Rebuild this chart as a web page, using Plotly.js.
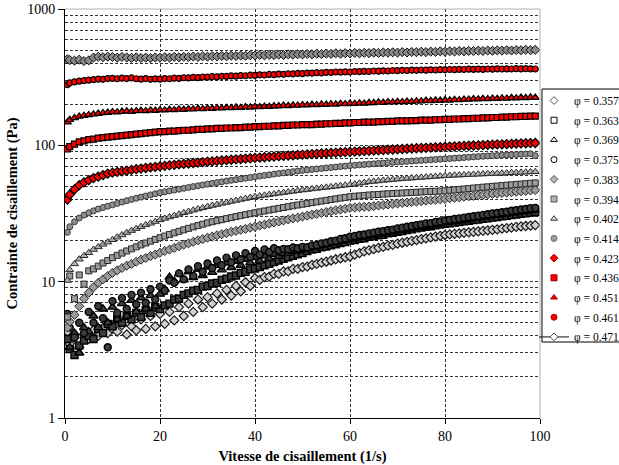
<!DOCTYPE html>
<html><head><meta charset="utf-8">
<script src="https://cdn.plot.ly/plotly-3.0.1.min.js"></script>
<style>html,body{margin:0;padding:0;background:#fff}#chart{width:619px;height:465px}</style>
</head><body><div id="chart"></div>
<script>
const shear = [0.5,1,2,3,4,5,6,7,8,9,10,11,12,13,14,15,16,17,18,19,20,21,22,23,24,25,26,27,28,29,30,31,32,33,34,35,36,37,38,39,40,41,42,43,44,45,46,47,48,49,50,51,52,53,54,55,56,57,58,59,60,61,62,63,64,65,66,67,68,69,70,71,72,73,74,75,76,77,78,79,80,81,82,83,84,85,86,87,88,89,90,91,92,93,94,95,96,97,98,99];

const phiLabels = ["0.357","0.363","0.369","0.375","0.383","0.394","0.402","0.414","0.423","0.436","0.451","0.461","0.471"];

const s357 = [4.3,3.5,3.9,3.3,4.1,3.8,4.4,4.0,4.6,4.2,4.5,4.3,4.8,4.1,4.7,4.4,5.3,4.5,5.6,4.7,5.8,4.9,6.0,5.2,6.5,5.6,6.9,6.0,7.4,6.5,7.7,6.9,8.2,7.4,8.7,7.9,9.3,8.5,9.9,9.3,10.6,10.3,10.8,10.9,11.4,11.4,11.9,11.9,12.4,12.4,12.8,12.9,13.3,13.5,13.8,14,14.3,14.6,14.8,15.1,15.3,15.8,16.2,16.7,17,17.3,17.7,18,18.4,18.6,19,19.3,19.6,19.9,20.2,20.5,20.8,21.1,21.4,21.7,22,22.2,22.4,22.6,22.8,23,23.2,23.4,23.6,23.8,24,24.2,24.5,24.7,24.9,25.2,25.4,25.6,25.8,26];
const s363 = [3.8,3.2,2.9,3.4,3.7,4.0,3.8,4.5,4.2,4.9,4.7,5.3,5.0,5.6,5.3,5.9,5.5,6.2,5.9,6.5,6.3,6.7,6.9,7.4,7.5,8.0,8.2,8.6,8.7,9.2,9.3,9.7,9.8,10.3,10.5,10.9,11.1,11.6,11.8,12.3,12.5,12.8,13.2,13.5,13.9,14.3,14.7,15.1,15.5,15.9,16.2,16.8,17.2,17.4,17.9,18.1,18.5,18.8,19.2,19.5,20,20.2,20.6,20.8,21.3,21.5,21.9,22.1,22.6,22.8,23.2,23.5,23.9,24.2,24.6,24.9,25.3,25.5,25.9,26.2,26.6,26.8,27.1,27.4,27.7,28,28.3,28.5,28.9,29.1,29.5,29.8,30.2,30.4,30.8,31.1,31.5,31.7,32.1,32.4];
const s369 = [4.6,3.3,4.2,3.0,4.6,4.3,5.6,4.6,6.3,5.0,6.5,5.3,6.9,5.6,7.3,6.0,7.6,6.3,7.9,6.6,8.1,8.8,10.8,10.1,11.4,10.3,11.8,10.7,12.3,11.1,12.8,11.7,13.2,12.2,13.7,12.7,14.1,13.2,14.6,13.8,15,14.2,15.4,14.8,15.9,15.3,16.1,16.2,16.7,16.8,17.2,17.4,17.9,18,18.5,18.7,19.1,19.3,19.8,20,20.5,20.7,21.1,21.3,21.7,21.9,22.3,22.5,22.9,23.1,23.6,23.8,24.3,24.5,25,25.2,25.6,25.8,26.3,26.5,27,27.3,27.7,28,28.4,28.6,29.1,29.3,29.8,30,30.5,30.7,31.1,31.4,31.8,32,32.5,32.7,33.2,33.4];
const s375 = [5.8,4.6,3.9,5.0,4.2,6.0,5.0,6.6,5.4,3.3,7.2,5.9,7.6,6.3,8.0,6.8,8.3,7.0,8.8,7.4,9.2,8.6,10.2,9.8,11.5,10.4,12.3,11.0,13.0,11.8,13.6,12.6,14.3,13.2,15,13.9,15.6,14.6,16.2,15.2,16.8,15.8,17.2,16.5,17.6,17.0,17.4,17.3,17.8,17.6,18.0,17.9,18.4,18.6,19.1,19.3,19.8,20,20.6,20.8,21.4,21.6,22,22.2,22.6,22.9,23.3,23.5,23.9,24.1,24.6,24.9,25.3,25.6,26,26.3,26.7,26.9,27.4,27.6,28.1,28.4,28.8,29.1,29.5,29.8,30.2,30.5,30.9,31.2,31.6,31.9,32.3,32.6,33.1,33.4,33.8,34.1,34.6,34.8];
const s383 = [4.6,5.1,5.7,6.6,7.5,8.3,9.1,9.8,10.4,11,11.6,12.1,12.6,13.1,13.5,14,14.5,14.9,15.4,15.8,16.3,16.8,17.2,17.7,18.2,18.7,19.1,19.6,20.1,20.5,21,21.4,21.9,22.3,22.7,23.2,23.6,24,24.4,24.9,25.3,25.8,26.2,26.7,27.2,27.6,28.1,28.6,29.1,29.5,30,30.5,31,31.4,31.9,32.4,32.9,33.4,33.8,34.3,34.8,35,35.2,35.4,35.5,35.8,36.2,36.5,36.8,37.2,37.5,37.8,38.1,38.4,38.7,39,39.3,39.6,39.9,40.2,40.5,40.9,41.2,41.6,41.9,42.3,42.6,43,43.3,43.7,44,44.3,44.7,45,45.3,45.7,46,46.3,46.7,47];
const s394 = [5.5,11,7.5,11.2,9.6,12,12.4,13,13.7,14.3,15,15.6,16.2,16.8,17.4,18,18.6,19.2,19.8,20.4,21,21.6,22.2,22.8,23.4,24,24.6,25.2,25.8,26.4,27,27.5,28,28.5,29,29.5,30,30.5,31,31.5,32,32.5,33,33.5,34,34.5,35,35.5,36,36.5,37,37.5,38,38.5,39,39.5,40,40.5,41,41.5,42,42.3,42.6,42.9,43.2,43.4,43.6,43.9,44.1,44.3,44.5,44.7,44.9,45.1,45.3,45.5,45.7,45.9,46,46.2,46.4,46.8,47.1,47.5,47.8,48.2,48.6,48.9,49.3,49.6,50,50.3,50.7,51,51.3,51.7,52,52.3,52.7,53];
const s402 = [10.2,12.2,13.5,14.6,15.5,16.3,17.2,18,18.8,19.5,20.3,21.2,22,22.9,23.7,24.5,25.3,26.1,26.8,27.6,28.4,29.1,29.8,30.5,31.2,32,32.7,33.4,34.1,34.8,35.5,36.2,36.8,37.5,38.1,38.8,39.4,40.1,40.7,41.4,42,42.5,43,43.5,44,44.5,45,45.5,46,46.5,47,47.4,47.9,48.3,48.8,49.2,49.6,50.1,50.5,51,51.4,52,52.7,53.3,54,54.4,54.8,55.3,55.7,56.1,56.5,56.8,57.2,57.5,57.8,58.2,58.5,58.8,59.1,59.5,59.8,60,60.3,60.5,60.7,60.9,61.2,61.4,61.6,61.8,62,62.2,62.4,62.6,62.9,63.1,63.3,63.5,63.8,64];
const s414 = [23,25.3,27.5,29.3,30.8,32,33.1,34.1,35,35.8,36.6,37.5,38.4,39.3,40.1,40.9,41.7,42.5,43.3,44.1,44.9,45.6,46.3,47,47.7,48.4,49.1,49.8,50.5,51.2,51.9,52.6,53.3,54,54.7,55.4,56,56.7,57.4,58.1,58.8,59.5,60.2,60.8,61.5,62.2,62.8,63.5,64.1,64.8,65.5,66,66.6,67.1,67.7,68.2,68.8,69.3,69.9,70.4,71,71.4,71.9,72.3,72.8,73.2,73.7,74.1,74.6,75,75.5,75.9,76.3,76.7,77.1,77.5,77.9,78.3,78.8,79.2,79.6,80,80.5,80.9,81.4,81.8,82.3,82.7,83.2,83.6,84,84.3,84.7,85,85.3,85.7,86,86.3,86.7,84];
const s423 = [40,43.5,47.5,51,53.5,55.5,57.5,59,60.5,62,63,63.8,64.5,65.3,66,66.8,67.5,68.2,68.9,69.5,70.1,70.7,71.3,71.9,72.5,73.1,73.6,74.2,74.7,75.3,75.8,76.3,76.9,77.4,77.9,78.4,78.9,79.4,79.9,80.4,80.9,81.3,81.8,82.3,82.7,83.2,83.6,84.1,84.5,85,85.4,85.8,86.3,86.7,87.1,87.5,87.9,88.3,88.8,89.2,89.6,90,90.4,90.8,91.2,91.6,92,92.4,92.8,93.2,93.6,94,94.4,94.8,95.2,95.6,95.9,96.3,96.7,97.1,97.5,97.9,98.2,98.6,99,99.3,99.7,100,100.4,100.8,101.1,101.5,101.8,102.2,102.5,102.9,103.2,103.6,103.9,104];
const s436 = [94,98,102,106,108,110,111,113,114,115,116,117,118,119,120,121,122,123,124,125,126,126,127,127,128,129,129,130,131,131,132,132,133,133,134,134,135,135,136,136,137,137,138,138,139,139,140,140,141,141,142,142,142,143,143,144,144,145,145,146,146,147,147,148,148,148,149,149,150,150,151,151,151,152,152,153,153,153,154,154,155,155,156,156,157,157,158,158,159,159,160,160,161,161,162,162,163,163,164,164];
const s451 = [148,154,159,163,165,167,169,171,173,174,176,175,177,178,177,179,180,179,181,180,182,181,183,182,184,183,185,184,186,185,187,186,188,187,189,188,190,189,191,190,192,191,193,192,194,194,196,195,197,196,198,197,199,198,200,199,201,200,202,201,203,202,204,203,205,205,207,206,208,207,209,208,210,209,211,211,213,212,214,213,215,214,216,215,217,217,219,218,220,219,221,220,222,221,223,222,224,223,225,224];
const s461 = [279,287,292,296,298,301,303,306,305,309,310,308,311,309,312,308,306,309,305,307,306,309,308,311,310,313,312,315,314,317,316,319,318,321,320,323,322,325,324,327,326,329,328,331,330,333,332,335,334,337,336,339,338,341,340,343,342,345,344,346,345,348,347,349,348,351,350,352,351,354,353,355,354,356,355,357,356,358,357,359,358,360,359,361,360,362,361,362,361,363,362,364,363,364,363,365,364,365,364,363];
const s471 = [428,422,418,425,415,420,440,446,443,447,444,440,445,441,438,442,437,440,436,441,439,443,440,445,442,446,444,448,445,450,447,451,449,453,450,455,452,456,454,458,456,460,457,461,459,463,460,465,462,466,464,468,465,470,467,471,469,473,470,474,472,476,473,477,475,479,476,480,478,481,479,483,480,484,482,486,483,487,485,489,486,490,488,492,489,493,491,495,492,496,494,497,495,499,496,500,498,502,499,501];

const seriesValues = [s357,s363,s369,s375,s383,s394,s402,s414,s423,s436,s451,s461,s471];
// plot style (dense look) and legend style (as in the key)
const styles = [
  {symbol:'diamond', fill:'#d0d0d0', line:'#1a1a1a', lw:1.2, size:7, lfill:'#ffffff', lline:'#555555'},
  {symbol:'square', fill:'#3c3c3c', line:'#000000', lw:1.4, size:7, lfill:'#ffffff', lline:'#000000'},
  {symbol:'triangle-up', fill:'#3c3c3c', line:'#000000', lw:1.4, size:8, lfill:'#ffffff', lline:'#000000'},
  {symbol:'circle', fill:'#3c3c3c', line:'#000000', lw:1.4, size:7, lfill:'#ffffff', lline:'#000000'},
  {symbol:'diamond', fill:'#9a9a9a', line:'#2a2a2a', lw:1, size:7, lfill:'#b4b4b4', lline:'#555555'},
  {symbol:'square', fill:'#9a9a9a', line:'#2a2a2a', lw:1, size:6, lfill:'#b4b4b4', lline:'#555555'},
  {symbol:'triangle-up', fill:'#b0b0b0', line:'#2a2a2a', lw:1, size:7, lfill:'#e0e0e0', lline:'#333333'},
  {symbol:'circle', fill:'#8f8f8f', line:'#3a3a3a', lw:1, size:6, lfill:'#a0a0a0', lline:'#666666'},
  {symbol:'diamond', fill:'#ff0000', line:'#000000', lw:1.2, size:7, lfill:'#ff0000', lline:'#a00000'},
  {symbol:'square', fill:'#ff0000', line:'#000000', lw:1.2, size:6, lfill:'#ff0000', lline:'#a00000'},
  {symbol:'triangle-up', fill:'#ff0000', line:'#000000', lw:1.2, size:7, lfill:'#ff0000', lline:'#a00000'},
  {symbol:'circle', fill:'#ff0000', line:'#000000', lw:1.2, size:6, lfill:'#ff0000', lline:'#a00000'},
  {symbol:'diamond', fill:'#8a8a8a', line:'#111111', lw:1, size:7, lfill:'#ffffff', lline:'#555555'}
];

const traces = [];
seriesValues.forEach((vals, i) => {
  const st = styles[i];
  const t = {
    type:'scatter', x: shear, y: vals, name: '\u03c6 = ' + phiLabels[i], legendgroup: 'g' + i, showlegend: false,
    mode: i === 12 ? 'lines+markers' : 'markers',
    marker: {symbol: st.symbol, size: st.size, color: st.fill, line: {color: st.line, width: st.lw}}
  };
  if (i === 12) t.line = {color:'#222222', width:1};
  traces.push(t);
});
// legend key entries (no data points)
seriesValues.forEach((vals, i) => {
  const st = styles[i];
  const t = {
    type:'scatter', x: [null], y: [null], name: '\u03c6 = ' + phiLabels[i], legendgroup: 'g' + i, showlegend: true,
    mode: i === 12 ? 'lines+markers' : 'markers',
    marker: {symbol: st.symbol, size: 6, color: st.lfill, line: {color: st.lline, width: 1}}
  };
  if (i === 12) t.line = {color:'#333333', width:1.2};
  traces.push(t);
});

const gridDash = '3px,2px';
const layout = {
  width: 619, height: 465,
  margin: {l: 65, r: 79, t: 9, b: 47, autoexpand: false},
  paper_bgcolor: '#ffffff', plot_bgcolor: '#ffffff',
  font: {family: '"Liberation Serif", "Times New Roman", serif', size: 14, color: '#000'},
  showlegend: true,
  legend: {
    x: 0.9874, y: 0.8117, xanchor: 'left', yanchor: 'top',
    borderwidth: 0, bgcolor: 'rgba(0,0,0,0)',
    font: {family: '"Liberation Serif", serif', size: 11.5, color: '#000'},
    tracegroupgap: 0.7, itemwidth: 30
  },
  xaxis: {
    range: [0, 100], tickvals: [0,20,40,60,80,100],
    showline: true, linecolor: '#000', linewidth: 1,
    ticks: 'outside', ticklen: 5, tickcolor: '#000',
    showgrid: true, gridcolor: '#333', griddash: gridDash, gridwidth: 1,
    zeroline: false,
    tickfont: {size: 14},
    title: {text: '<b>Vitesse de cisaillement (1/s)</b>', font: {size: 14.5}, standoff: 9}
  },
  yaxis: {
    type: 'log', range: [0, 3], tickvals: [1,10,100,1000], ticktext: ['1','10','100','1000'],
    showline: true, linecolor: '#000', linewidth: 1,
    ticks: 'outside', ticklen: 6, tickcolor: '#000',
    showgrid: true, gridcolor: '#333', griddash: gridDash, gridwidth: 1,
    minor: {dtick: 'D1', showgrid: true, gridcolor: '#333', griddash: gridDash, gridwidth: 1, ticks: ''},
    zeroline: false,
    tickfont: {size: 14},
    title: {text: '<b>Contrainte de cisaillement (Pa)</b>', font: {size: 14.5}, standoff: 6}
  },
  shapes: [
    {type:'line', xref:'paper', yref:'paper', x0:0, x1:1, y0:1, y1:1, line:{color:'#b0b0b0', width:1}},
    {type:'line', xref:'paper', yref:'paper', x0:1, x1:1, y0:0, y1:1, line:{color:'#b0b0b0', width:1}},
    {type:'rect', xref:'paper', yref:'paper', x0:1.0042, x1:1.2, y0:0.1858, y1:0.8044, line:{color:'#000', width:1}, fillcolor:'rgba(0,0,0,0)', layer:'above'}
  ]
};
Plotly.newPlot('chart', traces, layout, {staticPlot: true, displayModeBar: false});
</script></body></html>
